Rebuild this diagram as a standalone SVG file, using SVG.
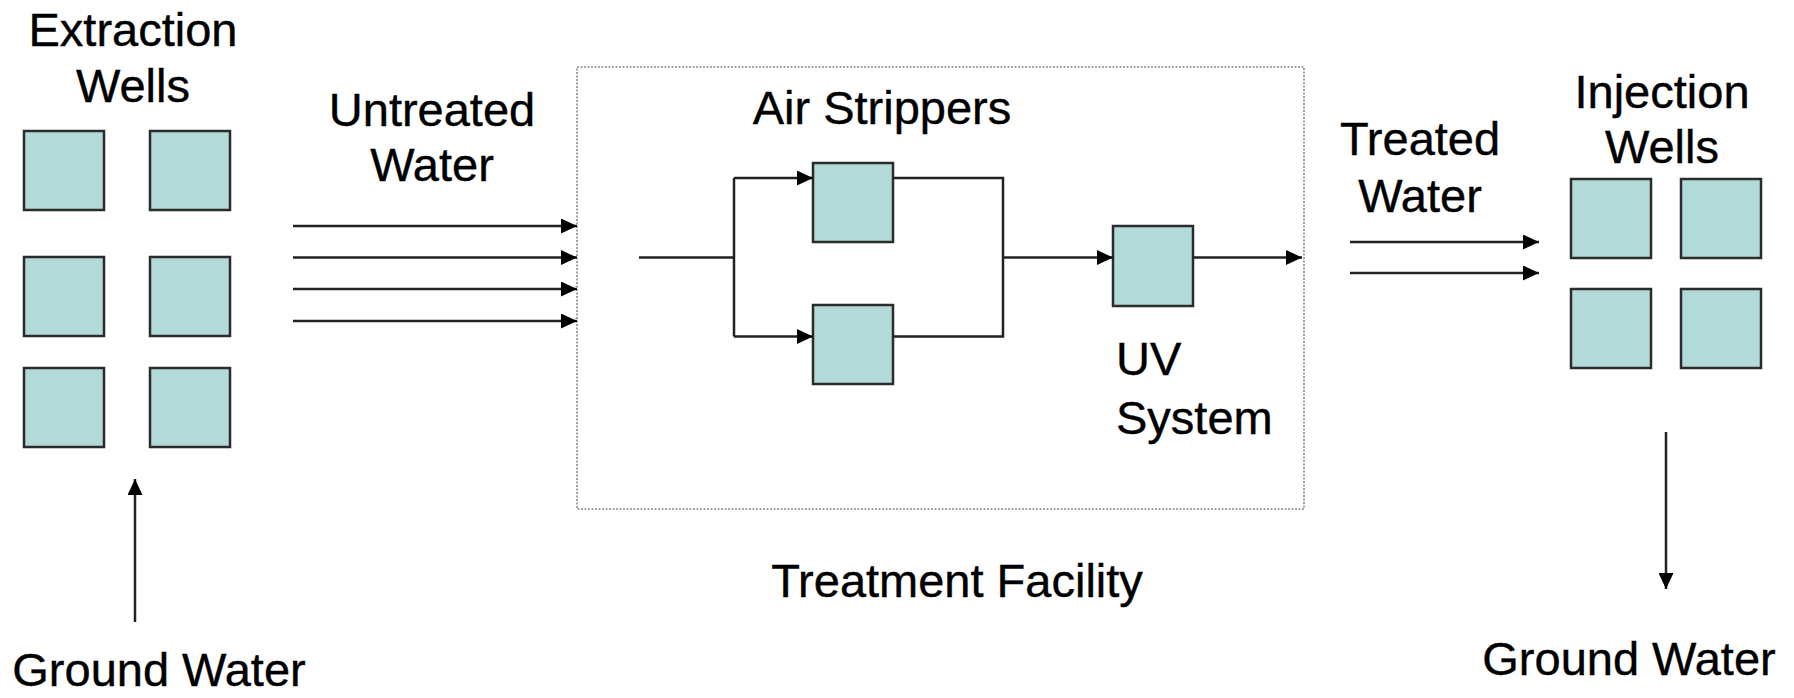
<svg xmlns="http://www.w3.org/2000/svg" width="1794" height="698" viewBox="0 0 1794 698">
<style>
.t{font-family:"Liberation Sans",Arial,sans-serif;font-size:47px;fill:#000;stroke:#000;stroke-width:0.4}
.c{text-anchor:middle}
.w{fill:#B1DAD9;stroke:#2b2b2b;stroke-width:2.5}
.ln{fill:none;stroke:#222;stroke-width:2.5}
.ar{marker-end:url(#ah)}
.fac{fill:none;stroke:#888;stroke-width:1.6;stroke-dasharray:2 1.5}
</style>
<defs>
<marker id="ah" markerUnits="userSpaceOnUse" markerWidth="17" markerHeight="15" refX="16" refY="7.5" orient="auto">
<path d="M0,0 L16,7.5 L0,15 Z" fill="#000"/>
</marker>
</defs>
<rect width="1794" height="698" fill="#fff"/>

<g id="extraction-wells">
<text class="t c" x="133" y="46">Extraction</text>
<text class="t c" x="133" y="102">Wells</text>
<rect class="w" x="24" y="131" width="80" height="79"/>
<rect class="w" x="150" y="131" width="80" height="79"/>
<rect class="w" x="24" y="257" width="80" height="79"/>
<rect class="w" x="150" y="257" width="80" height="79"/>
<rect class="w" x="24" y="368" width="80" height="79"/>
<rect class="w" x="150" y="368" width="80" height="79"/>
</g>

<g id="untreated-water-label">
<text class="t c" x="432" y="126">Untreated</text>
<text class="t c" x="432" y="181">Water</text>
</g>

<g id="treatment-facility">
<rect class="fac" x="577" y="67" width="727" height="442"/>
<text class="t c" x="957" y="597">Treatment Facility</text>
</g>

<g id="air-strippers">
<text class="t c" x="882" y="124">Air Strippers</text>
<rect class="w" x="813" y="163" width="80" height="79"/>
<rect class="w" x="813" y="305" width="80" height="79"/>
</g>

<g id="uv-system">
<rect class="w" x="1113" y="226" width="80" height="80"/>
<text class="t" x="1116" y="375">UV</text>
<text class="t" x="1116" y="434">System</text>
</g>

<g id="treated-water-label">
<text class="t c" x="1420" y="155">Treated</text>
<text class="t c" x="1420" y="212">Water</text>
</g>

<g id="injection-wells">
<text class="t c" x="1662" y="108">Injection</text>
<text class="t c" x="1662" y="163">Wells</text>
<rect class="w" x="1571" y="179" width="80" height="79"/>
<rect class="w" x="1681" y="179" width="80" height="79"/>
<rect class="w" x="1571" y="289" width="80" height="79"/>
<rect class="w" x="1681" y="289" width="80" height="79"/>
</g>

<g id="ground-water-left">
<text class="t c" x="159" y="686">Ground Water</text>
</g>
<g id="ground-water-right">
<text class="t c" x="1629" y="675">Ground Water</text>
</g>

<g id="connectors">
<line class="ln ar" x1="293" y1="226" x2="577" y2="226"/>
<line class="ln ar" x1="293" y1="257.5" x2="577" y2="257.5"/>
<line class="ln ar" x1="293" y1="289" x2="577" y2="289"/>
<line class="ln ar" x1="293" y1="321" x2="577" y2="321"/>
<line class="ln" x1="639" y1="257.5" x2="734" y2="257.5"/>
<polyline class="ln" points="734,178 734,336.5"/>
<line class="ln ar" x1="734" y1="178" x2="813" y2="178"/>
<line class="ln ar" x1="734" y1="336.5" x2="813" y2="336.5"/>
<polyline class="ln" points="893,178 1003,178 1003,336.5 893,336.5"/>
<line class="ln ar" x1="1003" y1="257.5" x2="1113" y2="257.5"/>
<line class="ln ar" x1="1193" y1="257.5" x2="1302" y2="257.5"/>
<line class="ln ar" x1="1350" y1="242" x2="1539" y2="242"/>
<line class="ln ar" x1="1350" y1="273" x2="1539" y2="273"/>
<line class="ln ar" x1="135" y1="622" x2="135" y2="479"/>
<line class="ln ar" x1="1666" y1="432" x2="1666" y2="589"/>
</g>
</svg>
